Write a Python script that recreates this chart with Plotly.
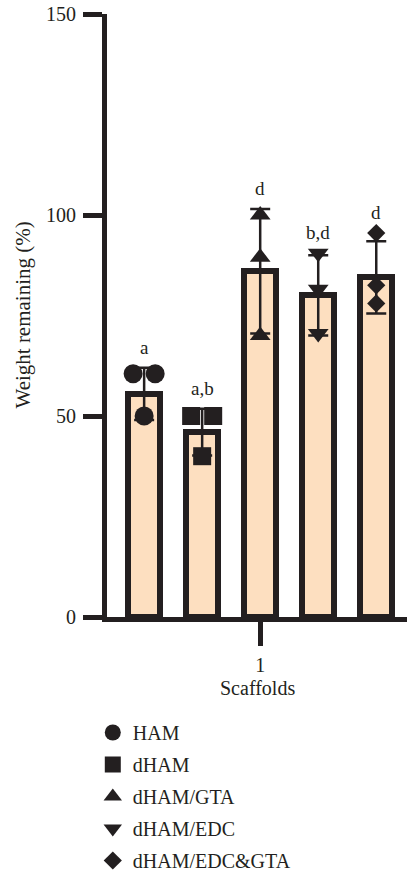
import plotly.graph_objects as go

groups = ["HAM", "dHAM", "dHAM/GTA", "dHAM/EDC", "dHAM/EDC&GTA"]
means = [55.5, 46.0, 86.0, 80.0, 84.5]
sds = [6.5, 5.8, 15.5, 10.0, 9.0]
points = [
    [60.5, 60.5, 50.0],
    [50.0, 50.0, 40.0],
    [100.0, 89.5, 70.0],
    [90.5, 81.5, 70.5],
    [95.5, 82.5, 78.0],
]
letters = ["a", "a,b", "d", "b,d", "d"]
symbols = ["circle", "square", "triangle-up", "triangle-down", "diamond"]
sizes = [19, 18, 18, 18, 14]
x_tick_labels = ["1"]
y_ticks = [0, 50, 100, 150]
x_title = "Scaffolds"
y_title = "Weight remaining (%)"

DARK = "#231f20"
FILL = "#fddfc0"
FONT = "Liberation Serif, DejaVu Serif, serif"

idx = list(range(len(groups)))

fig = go.Figure()
fig.add_trace(go.Bar(
    x=idx, y=means, width=0.55,
    marker=dict(color=FILL, line=dict(color=DARK, width=6)),
    error_y=dict(type="data", array=sds, visible=True, color=DARK, thickness=2.5, width=10),
    showlegend=False, hoverinfo="skip",
))

JIT = 0.19
for i, (g, pts) in enumerate(zip(groups, points)):
    xs = []
    for j, v in enumerate(pts):
        dup = [k for k, w in enumerate(pts) if w == v]
        if len(dup) > 1:
            pos = dup.index(j)
            off = (pos - (len(dup) - 1) / 2) * 2 * JIT
        else:
            off = 0.0
        xs.append(i + off)
    fig.add_trace(go.Scatter(
        x=xs, y=pts, mode="markers", name=g, legendgroup=g,
        marker=dict(symbol=symbols[i], size=sizes[i], color=DARK, line=dict(width=0)),
    ))

for i in idx:
    top = max(max(points[i]), means[i] + sds[i])
    fig.add_annotation(x=i, y=top, text=letters[i], showarrow=False,
                       yanchor="bottom", yshift=8,
                       font=dict(family=FONT, size=19, color=DARK))

# axis titles as annotations
fig.add_annotation(xref="paper", yref="paper", x=(22 - 107) / 300, y=0.5,
                   text=y_title, textangle=-90, showarrow=False,
                   xanchor="center", yanchor="middle",
                   font=dict(family=FONT, size=21, color=DARK))
fig.add_annotation(xref="paper", yref="paper", x=(257 - 107) / 300, y=-(688 - 617) / 603,
                   text=x_title, showarrow=False,
                   xanchor="center", yanchor="middle",
                   font=dict(family=FONT, size=20, color=DARK))

fig.update_layout(
    width=407, height=877,
    margin=dict(l=107, r=0, t=14, b=260, autoexpand=False),
    plot_bgcolor="white", paper_bgcolor="white",
    font=dict(family=FONT, size=20, color=DARK),
    bargap=0,
    legend=dict(
        xref="container", yref="container",
        x=0.228, y=0.187, xanchor="left", yanchor="top",
        font=dict(family=FONT, size=20, color=DARK),
        itemsizing="trace", bgcolor="rgba(0,0,0,0)",
        traceorder="grouped", tracegroupgap=3,
    ),
    xaxis=dict(
        range=[-0.64, 4.53], showgrid=False, zeroline=False,
        showline=True, linecolor=DARK, linewidth=5,
        ticks="outside", ticklen=24, tickwidth=5, tickcolor=DARK,
        tickvals=[2], ticktext=x_tick_labels, ticklabelstandoff=2,
        tickfont=dict(family=FONT, size=20, color=DARK),
    ),
    yaxis=dict(
        range=[0, 150], showgrid=False, zeroline=False,
        showline=True, linecolor=DARK, linewidth=5,
        ticks="outside", ticklen=19, tickwidth=5, tickcolor=DARK,
        tickvals=y_ticks, ticklabelstandoff=3,
        tickfont=dict(family=FONT, size=20, color=DARK),
    ),
)

fig.write_html("out.html", config={"displayModeBar": False},
               post_script="document.body.style.margin='0';")
